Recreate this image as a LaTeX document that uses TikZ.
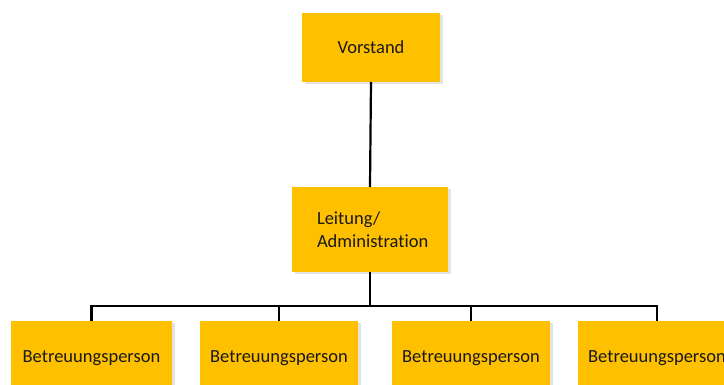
\documentclass[tikz,border=0pt]{standalone}
\usepackage{fontspec}
\setmainfont[Ligatures={NoCommon}]{Carlito}
\usetikzlibrary{shadows}
\definecolor{gold}{HTML}{FFC000}
\tikzset{
  orgbox/.style={fill=gold, draw=none, inner sep=0pt, outer sep=0pt,
    font=\fontsize{18.5}{22.5}\selectfont, text=black!90,
    drop shadow={opacity=0.22, shadow xshift=2.5pt, shadow yshift=-2.5pt}},
  conn/.style={draw=black, line width=2.2pt}
}
\begin{document}
\begin{tikzpicture}[x=1pt,y=-1pt]
\useasboundingbox (0,0) rectangle (724,385);
\clip (0,0) rectangle (724,385);
\fill[white] (0,0) rectangle (724,385);
\node[orgbox, minimum width=138pt, minimum height=69pt] (v) at (371,47.5) {Vorstand};
\node[orgbox, minimum width=156pt, minimum height=85pt, align=left, text width=106pt] (l) at (370,229.5) {Leitung/\\Administration};
\node[orgbox, minimum width=161pt, minimum height=74pt] (c1) at (91.5,358) {Betreuungsperson};
\node[orgbox, minimum width=158pt, minimum height=74pt] (c2) at (279,358) {Betreuungsperson};
\node[orgbox, minimum width=158pt, minimum height=74pt] (c3) at (471,358) {Betreuungsperson};
\node[orgbox, minimum width=158pt, minimum height=74pt] (c4) at (657,358) {Betreuungsperson};
\draw[conn] (v.south) -- (l.north);
\draw[conn] (l.south) -- ++(0,34) coordinate (j);
\draw[conn] (c1.north) |- (j) -| (c4.north);
\draw[conn] (c2.north) |- (j);
\draw[conn] (c3.north) |- (j);
\end{tikzpicture}
\end{document}
